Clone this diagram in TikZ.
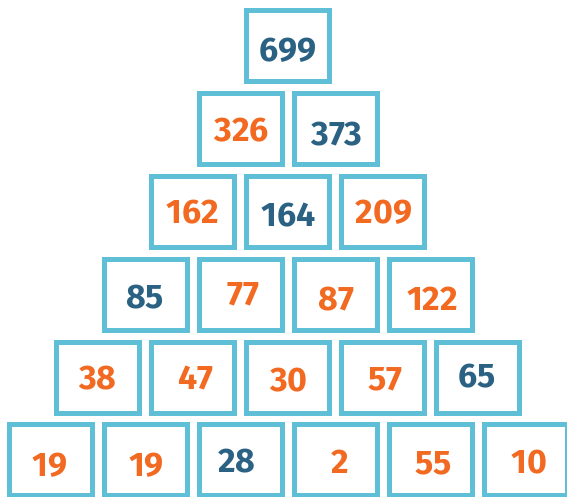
\documentclass[tikz,border=0pt]{standalone}
\usepackage{fontspec}
\newfontfamily\numfont{Fira Sans}
\definecolor{boxc}{HTML}{5FBFD7}
\definecolor{orng}{HTML}{F26A21}
\definecolor{blu}{HTML}{2B6284}
\tikzset{
  cell/.style={draw=boxc, line width=5pt, minimum width=83pt, minimum height=71pt, inner sep=0pt, fill=white},
  num/.style={inner sep=0pt, font=\numfont\bfseries\fontsize{34}{34}\selectfont},
  og/.style={num, text=orng},
  bl/.style={num, text=blu}
}
\begin{document}
\begin{tikzpicture}[x=1pt,y=-1pt]
\useasboundingbox (0,0) rectangle (567,496);
% row 1
\node[cell] (b11) at (288,46) {};
% row 2
\node[cell] (b21) at (240.5,129) {};
\node[cell] (b22) at (335.5,129) {};
% row 3
\node[cell] (b31) at (193,212) {};
\node[cell] (b32) at (288,212) {};
\node[cell] (b33) at (383,212) {};
% row 4
\node[cell] (b41) at (145.5,295) {};
\node[cell] (b42) at (240.5,295) {};
\node[cell] (b43) at (335.5,295) {};
\node[cell] (b44) at (430.5,295) {};
% row 5
\node[cell] (b51) at (98,378) {};
\node[cell] (b52) at (193,378) {};
\node[cell] (b53) at (288,378) {};
\node[cell] (b54) at (383,378) {};
\node[cell] (b55) at (478,378) {};
% row 6
\node[cell] (b61) at (50.5,460) {};
\node[cell] (b62) at (145.5,460) {};
\node[cell] (b63) at (240.5,460) {};
\node[cell] (b64) at (335.5,460) {};
\node[cell] (b65) at (430.5,460) {};
\node[cell] (b66) at (525.5,460) {};
% numbers
\node[bl] (t11) at (288,50) {699};
\node[og] (t21) at (242,130) {326};
\node[bl] (t22) at (337,134.5) {373};
\node[og] (t31) at (193,212.5) {162};
\node[bl] (t32) at (289,215.5) {164};
\node[og] (t33) at (384,212.5) {209};
\node[bl] (t41) at (145,297.5) {85};
\node[og] (t42) at (243.5,294.5) {77};
\node[og] (t43) at (336.5,299.5) {87};
\node[og] (t44) at (432.5,299) {122};
\node[og] (t51) at (98,378) {38};
\node[og] (t52) at (196,378) {47};
\node[og] (t53) at (289,380.5) {30};
\node[og] (t54) at (385.5,379.5) {57};
\node[bl] (t55) at (477.5,376.5) {65};
\node[og] (t61) at (50,465) {19};
\node[og] (t62) at (146.5,465) {19};
\node[bl] (t63) at (237,461.5) {28};
\node[og] (t64) at (340.5,461.5) {2};
\node[og] (t65) at (433.5,463.5) {55};
\node[og] (t66) at (529.5,462.5) {10};
\end{tikzpicture}
\end{document}
